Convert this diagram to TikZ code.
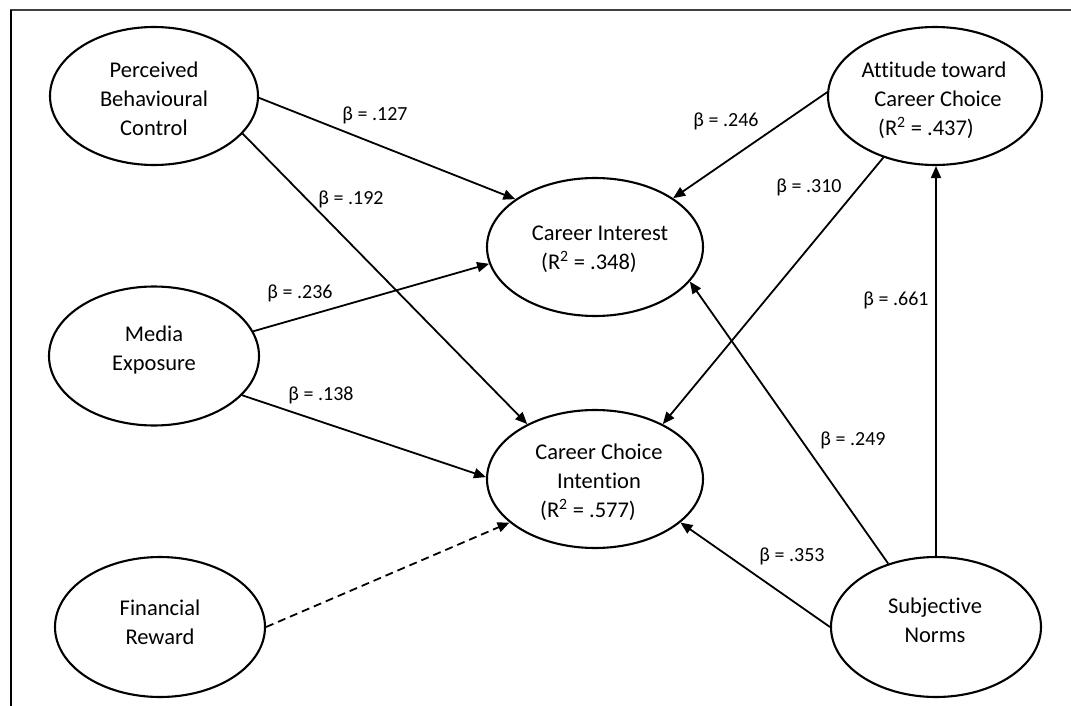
\documentclass[tikz,border=0pt]{standalone}
\usepackage{fontspec}
\setmainfont{Carlito}[Ligatures={NoCommon,NoContextual}]
\usetikzlibrary{arrows.meta,shapes.geometric}
\begin{document}
\begin{tikzpicture}[x=1pt,y=-1pt,
  ell/.style={draw, ellipse, line width=2.1pt, inner sep=0pt},
  txt/.style={align=center, font=\fontsize{22.5}{29}\selectfont, inner sep=0pt},
  lab/.style={font=\fontsize{20}{24}\selectfont, inner sep=0pt},
  conn/.style={line width=1.8pt, -{Triangle[length=12pt,width=10pt]}},
  dconn/.style={conn, dash pattern=on 8pt off 5pt},
]
\useasboundingbox (0,0) rectangle (1071,706);
\draw[line width=1.5pt, black!75] (10,10) -- (1071,10);
\draw[line width=1.5pt] (11,10) -- (11,706);

% ellipses
\node[ell, minimum width=208pt, minimum height=138pt] (pbc) at (154,96) {};
\node[ell, minimum width=214pt, minimum height=138pt] (att) at (935,96) {};
\node[ell, minimum width=210pt, minimum height=139pt] (me) at (154,356) {};
\node[ell, minimum width=216pt, minimum height=138pt] (ci) at (595,247) {};
\node[ell, minimum width=216pt, minimum height=138pt] (cci) at (595,479) {};
\node[ell, minimum width=210pt, minimum height=140pt] (fr) at (160,627) {};
\node[ell, minimum width=210pt, minimum height=140pt] (sn) at (936,627) {};

% texts
\node[txt] (pbct) at (154,99) {Perceived\\Behavioural\\Control};
\node[txt] (attt) at (934,100) {Attitude toward\\\hspace*{8pt}Career Choice\\\hspace*{-16pt}(R\textsuperscript{2} = .437)};
\node[txt] (met) at (154,350) {Media\\Exposure};
\node[txt] (cit) at (600,249) {Career Interest\\\hspace*{-22pt}(R\textsuperscript{2} = .348)};
\node[txt] (ccit) at (599,482) {Career Choice\\Intention\\\hspace*{-22pt}(R\textsuperscript{2} = .577)};
\node[txt] (frt) at (160,622) {Financial\\Reward};
\node[txt] (snt) at (935,620) {Subjective\\Norms};

% connectors
\draw[conn] (pbc.-1.6) -- (ci.149.1);
\draw[conn] (pbc.-23.7) -- (cci.141);
\draw[conn] (me.14.2) -- (ci.189.7);
\draw[conn] (me.-24.2) -- (cci.179.5);
\draw[dconn] (fr.0) -- (cci.207.9);
\draw[conn] (att.178.9) -- (ci.32.5);
\draw[conn] (att.230) -- (cci.39.8);
\draw[conn] (sn.north) -- (sn.north |- att.south);
\draw[conn] (sn.127.2) -- (ci.-20.2);
\draw[conn] (sn.180) -- (cci.-27.4);

% labels
\node[lab] (l1) at (375,115) {β = .127};
\node[lab] (l2) at (351,199) {β = .192};
\node[lab] (l3) at (300,293) {β = .236};
\node[lab] (l4) at (321,395) {β = .138};
\node[lab] (l5) at (726,121) {β = .246};
\node[lab] (l6) at (809,187) {β = .310};
\node[lab] (l7) at (896,300) {β = .661};
\node[lab] (l8) at (853,440) {β = .249};
\node[lab] (l9) at (792,556) {β = .353};
\end{tikzpicture}
\end{document}
